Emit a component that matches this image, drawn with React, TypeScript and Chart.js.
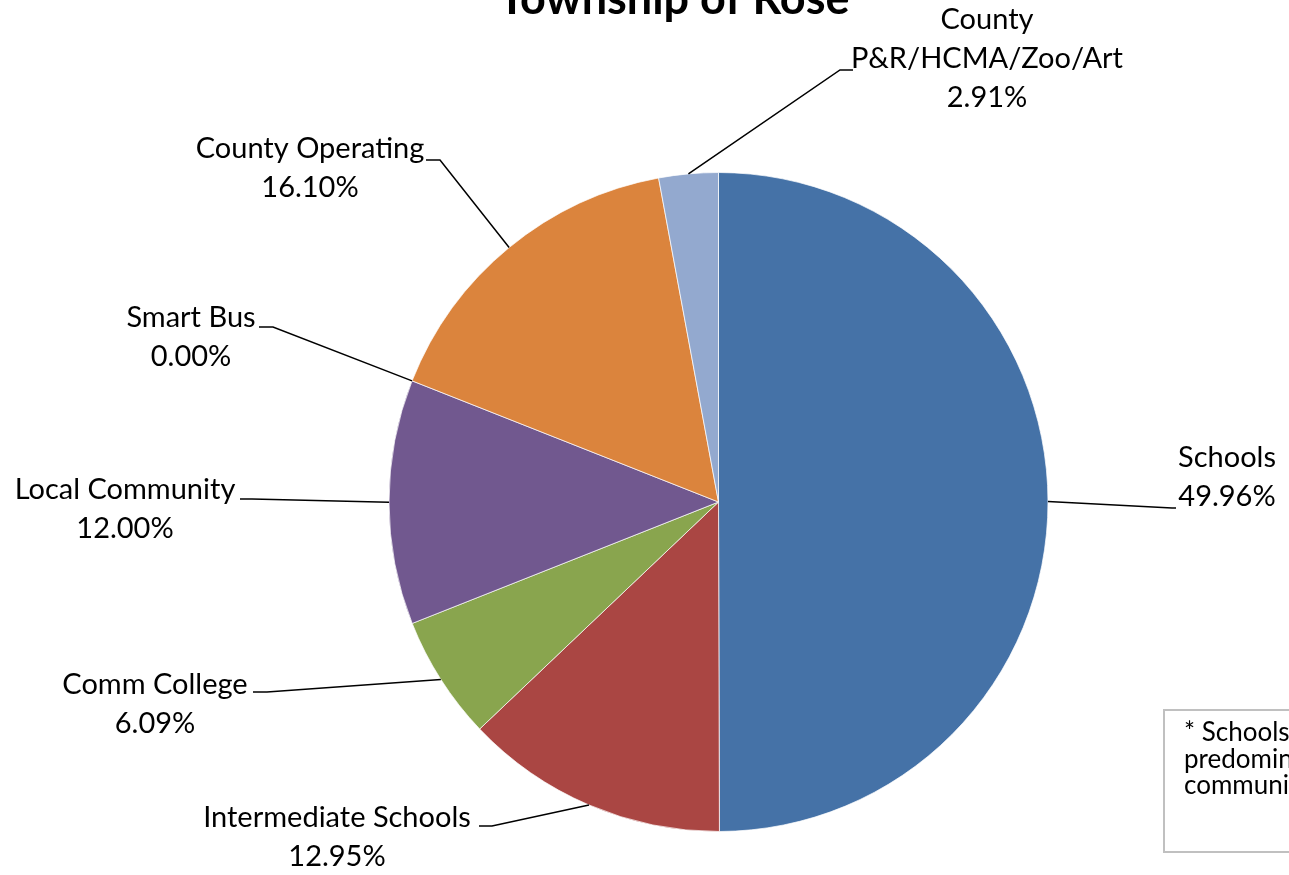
import React, { useEffect, useRef } from "react";
import { Chart, registerables } from "chart.js";

Chart.register(...registerables);

const categories = [
  "Schools",
  "Intermediate Schools",
  "Comm College",
  "Local Community",
  "Smart Bus",
  "County Operating",
  "County P&R/HCMA/Zoo/Art",
];
const labelLines = [
  ["Schools"],
  ["Intermediate Schools"],
  ["Comm College"],
  ["Local Community"],
  ["Smart Bus"],
  ["County Operating"],
  ["County", "P&R/HCMA/Zoo/Art"],
];
const values = [49.96, 12.95, 6.09, 12.0, 0.0, 16.1, 2.91];
const colors = ["#4572A7", "#AA4643", "#89A54E", "#71588F", "#4198AF", "#DB843D", "#93A9CF"];
const titleText = "Township of Rose";
const noteLines = ["* Schools reflect the", "predominant district in the", "community"];

// label layout (elbow point, end point, text centre x, first line y)
const labelLayout = [
  { elbow: [1172, 508], end: [1176, 508], cx: 1227, y0: 458 },
  { elbow: [492, 826], end: [479, 826], cx: 337, y0: 818 },
  { elbow: [267, 692], end: [253, 692], cx: 155, y0: 685 },
  { elbow: [252, 499], end: [240, 499], cx: 125, y0: 490 },
  { elbow: [273, 327], end: [259, 327], cx: 191, y0: 318 },
  { elbow: [440, 160], end: [426, 160], cx: 310, y0: 149 },
  { elbow: [840, 70], end: [853, 70], cx: 987, y0: 20 },
];

const FONT = "Lato, 'Open Sans', sans-serif";

export default function App() {
  const ref = useRef<HTMLCanvasElement | null>(null);
  useEffect(() => {
    document.body.style.margin = "0";
    const canvas = ref.current!;
    const overlay = {
      id: "overlay",
      afterDraw(chart: any) {
        const ctx = chart.ctx as CanvasRenderingContext2D;
        const meta = chart.getDatasetMeta(0);
        ctx.save();
        // title
        ctx.fillStyle = "#000";
        ctx.font = `bold 45px ${FONT}`;
        ctx.textAlign = "center";
        ctx.textBaseline = "alphabetic";
        ctx.fillText(titleText, 674, 14);
        // leader lines + labels
        meta.data.forEach((arc: any, i: number) => {
          const p = arc.getProps(["x", "y", "startAngle", "endAngle", "outerRadius"], true);
          const mid = (p.startAngle + p.endAngle) / 2;
          const sx = p.x + Math.cos(mid) * p.outerRadius;
          const sy = p.y + Math.sin(mid) * p.outerRadius;
          const L = labelLayout[i];
          ctx.strokeStyle = "#000";
          ctx.lineWidth = 1.5;
          ctx.beginPath();
          ctx.moveTo(sx, sy);
          ctx.lineTo(L.elbow[0], L.elbow[1]);
          ctx.lineTo(L.end[0], L.end[1]);
          ctx.stroke();
          const lines = [...labelLines[i], values[i].toFixed(2) + "%"];
          ctx.font = `29px ${FONT}`;
          ctx.textAlign = "center";
          ctx.textBaseline = "middle";
          ctx.fillStyle = "#000";
          lines.forEach((t, k) => ctx.fillText(t, L.cx, L.y0 + k * 39));
        });
        // note box
        ctx.strokeStyle = "#C0C0C0";
        ctx.lineWidth = 2;
        ctx.strokeRect(1164, 710, 200, 142);
        ctx.font = `26px ${FONT}`;
        ctx.textAlign = "left";
        ctx.textBaseline = "middle";
        noteLines.forEach((t, k) => ctx.fillText(t, 1184, 733 + k * 26.5));
        ctx.restore();
      },
    };
    const chart = new Chart(canvas, {
      type: "pie",
      data: {
        labels: categories,
        datasets: [
          {
            data: values,
            backgroundColor: colors,
            borderColor: "rgba(255,255,255,0.7)",
            borderWidth: 1,
          },
        ],
      },
      options: {
        responsive: false,
        animation: false,
        devicePixelRatio: 1,
        layout: { padding: { left: 388.5, right: 240.5, top: 172, bottom: 43 } },
        plugins: { legend: { display: false }, title: { display: false }, tooltip: { enabled: false } },
      },
      plugins: [overlay],
    });
    return () => chart.destroy();
  }, []);
  return (
    <div style={{ position: "absolute", left: 0, top: 0, width: 1289, height: 875, background: "#fff" }}>
      <canvas ref={ref} width={1289} height={875} />
    </div>
  );
}
